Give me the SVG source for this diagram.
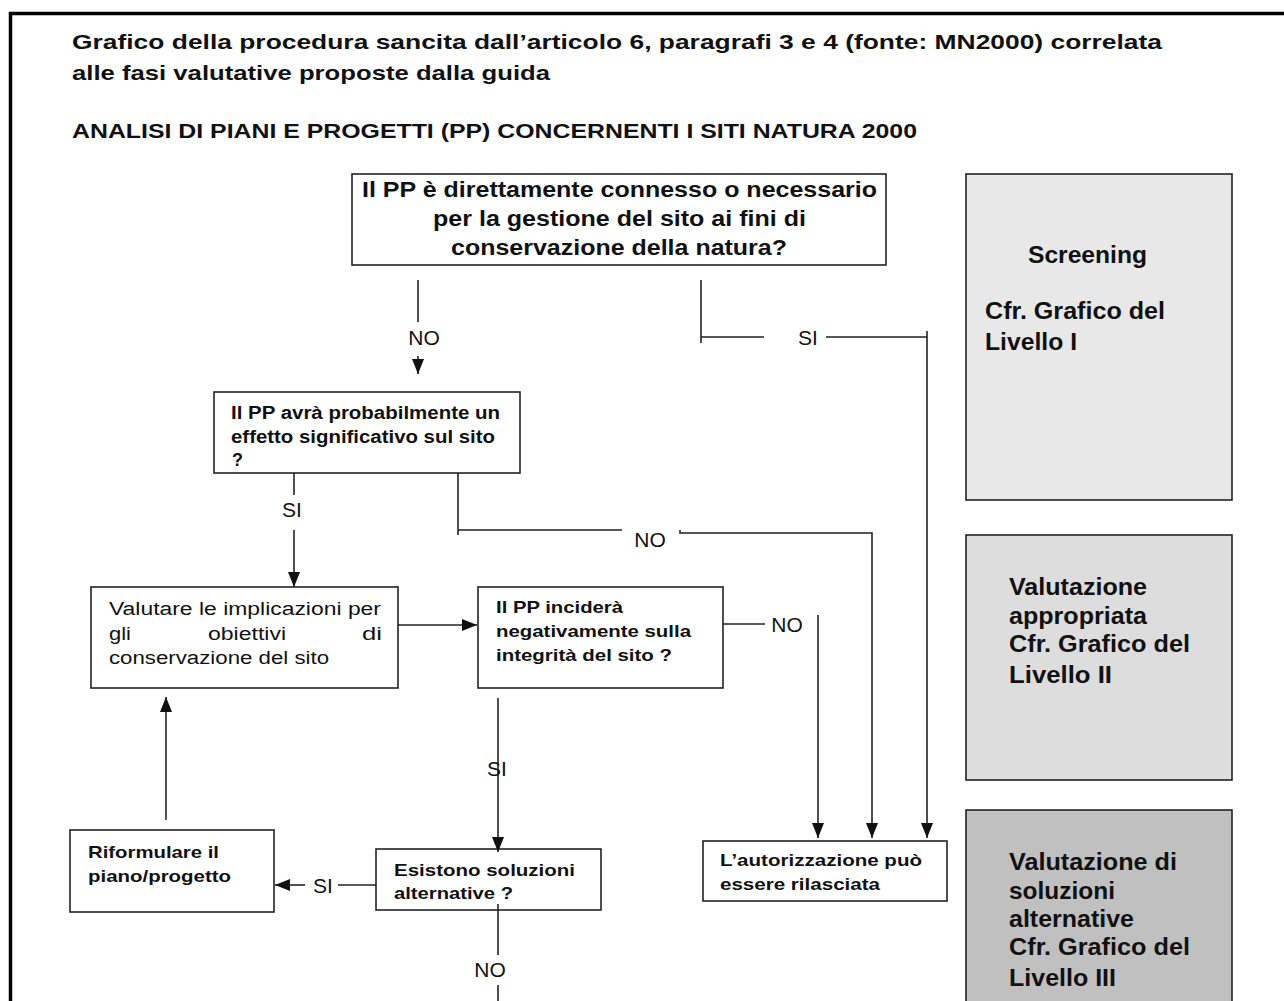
<svg xmlns="http://www.w3.org/2000/svg" width="1284" height="1001" viewBox="0 0 1284 1001">
<defs>
<style>
.t{font-family:"Liberation Sans",Arial,sans-serif;fill:#111}
.b{font-weight:bold}
.box{fill:#fff;stroke:#222;stroke-width:1.6}
.ln{stroke:#222;stroke-width:1.6;fill:none}
.lbl{font-family:"Liberation Sans",Arial,sans-serif;font-size:21px;fill:#111;text-anchor:middle}
.side{font-family:"Liberation Sans",Arial,sans-serif;font-size:23px;font-weight:bold;fill:#111}
</style>
<marker id="ah" viewBox="0 0 15 12" markerWidth="15" markerHeight="12" refX="15" refY="6" orient="auto" markerUnits="userSpaceOnUse">
<path d="M0,0 L15,6 L0,12 z" fill="#111"/>
</marker>
</defs>
<rect width="1284" height="1001" fill="#fff"/>
<path d="M10.5,1001 V13.5 H1284" fill="none" stroke="#000" stroke-width="3.5"/>
<g id="title">
<text class="t b" x="72" y="49" font-size="21" textLength="1090" lengthAdjust="spacingAndGlyphs">Grafico della procedura sancita dall’articolo 6, paragrafi 3 e 4 (fonte: MN2000) correlata</text>
<text class="t b" x="72" y="80" font-size="21" textLength="478" lengthAdjust="spacingAndGlyphs">alle fasi valutative proposte dalla guida</text>
<text class="t b" x="72" y="138" font-size="21" textLength="845" lengthAdjust="spacingAndGlyphs">ANALISI DI PIANI E PROGETTI (PP) CONCERNENTI I SITI NATURA 2000</text>
</g>
<g id="n1">
<rect class="box" x="352" y="174" width="534" height="91"/>
<text class="t b" font-size="22" x="362" y="197" textLength="515" lengthAdjust="spacingAndGlyphs">Il PP è direttamente connesso o necessario</text>
<text class="t b" font-size="22" x="433" y="226" textLength="373" lengthAdjust="spacingAndGlyphs">per la gestione del sito ai fini di</text>
<text class="t b" font-size="22" x="451" y="255" textLength="336" lengthAdjust="spacingAndGlyphs">conservazione della natura?</text>
</g>
<g id="n2">
<rect class="box" x="214" y="392" width="306" height="81"/>
<text class="t b" font-size="18" x="231" y="419" textLength="269" lengthAdjust="spacingAndGlyphs">Il PP avrà probabilmente un</text>
<text class="t b" font-size="18" x="231" y="443" textLength="264" lengthAdjust="spacingAndGlyphs">effetto significativo sul sito</text>
<text class="t b" font-size="18" x="232" y="466">?</text>
</g>
<g id="n3">
<rect class="box" x="91" y="587" width="307" height="101"/>
<text class="t" font-size="18" x="109" y="615" textLength="272" lengthAdjust="spacingAndGlyphs">Valutare le implicazioni per</text>
<text class="t" font-size="18" x="109" y="640" textLength="22" lengthAdjust="spacingAndGlyphs">gli</text>
<text class="t" font-size="18" x="208" y="640" textLength="78" lengthAdjust="spacingAndGlyphs">obiettivi</text>
<text class="t" font-size="18" x="362" y="640" textLength="20" lengthAdjust="spacingAndGlyphs">di</text>
<text class="t" font-size="18" x="109" y="664" textLength="220" lengthAdjust="spacingAndGlyphs">conservazione del sito</text>
</g>
<g id="n4">
<rect class="box" x="478" y="587" width="245" height="101"/>
<text class="t b" font-size="17" x="496" y="613" textLength="127" lengthAdjust="spacingAndGlyphs">Il PP inciderà</text>
<text class="t b" font-size="17" x="496" y="637" textLength="195" lengthAdjust="spacingAndGlyphs">negativamente sulla</text>
<text class="t b" font-size="17" x="496" y="661" textLength="176" lengthAdjust="spacingAndGlyphs">integrità del sito ?</text>
</g>
<g id="n5">
<rect class="box" x="703" y="841" width="244" height="60"/>
<text class="t b" font-size="17" x="720" y="866" textLength="202" lengthAdjust="spacingAndGlyphs">L’autorizzazione può</text>
<text class="t b" font-size="17" x="720" y="890" textLength="160" lengthAdjust="spacingAndGlyphs">essere rilasciata</text>
</g>
<g id="n6">
<rect class="box" x="376" y="849" width="225" height="61"/>
<text class="t b" font-size="17" x="394" y="876" textLength="181" lengthAdjust="spacingAndGlyphs">Esistono soluzioni</text>
<text class="t b" font-size="17" x="394" y="899" textLength="119" lengthAdjust="spacingAndGlyphs">alternative ?</text>
</g>
<g id="n7">
<rect class="box" x="70" y="830" width="204" height="82"/>
<text class="t b" font-size="17" x="88" y="858" textLength="131" lengthAdjust="spacingAndGlyphs">Riformulare il</text>
<text class="t b" font-size="17" x="88" y="882" textLength="143" lengthAdjust="spacingAndGlyphs">piano/progetto</text>
</g>
<g id="sideA">
<rect x="966" y="174" width="266" height="326" fill="#e8e8e8" stroke="#222" stroke-width="1.6"/>
<text class="side" x="1028" y="263" textLength="119" lengthAdjust="spacingAndGlyphs">Screening</text>
<text class="side" x="985" y="319" textLength="180" lengthAdjust="spacingAndGlyphs">Cfr. Grafico del</text>
<text class="side" x="985" y="350" textLength="92" lengthAdjust="spacingAndGlyphs">Livello I</text>
</g>
<g id="sideB">
<rect x="966" y="535" width="266" height="245" fill="#dddddd" stroke="#222" stroke-width="1.6"/>
<text class="side" x="1009" y="595" textLength="138" lengthAdjust="spacingAndGlyphs">Valutazione</text>
<text class="side" x="1009" y="624" textLength="138" lengthAdjust="spacingAndGlyphs">appropriata</text>
<text class="side" x="1009" y="652" textLength="181" lengthAdjust="spacingAndGlyphs">Cfr. Grafico del</text>
<text class="side" x="1009" y="683" textLength="103" lengthAdjust="spacingAndGlyphs">Livello II</text>
</g>
<g id="sideC">
<rect x="966" y="810" width="266" height="200" fill="#c0c0c0" stroke="#222" stroke-width="1.6"/>
<text class="side" x="1009" y="870" textLength="168" lengthAdjust="spacingAndGlyphs">Valutazione di</text>
<text class="side" x="1009" y="899" textLength="106" lengthAdjust="spacingAndGlyphs">soluzioni</text>
<text class="side" x="1009" y="927" textLength="125" lengthAdjust="spacingAndGlyphs">alternative</text>
<text class="side" x="1009" y="955" textLength="181" lengthAdjust="spacingAndGlyphs">Cfr. Grafico del</text>
<text class="side" x="1009" y="986" textLength="107" lengthAdjust="spacingAndGlyphs">Livello III</text>
</g>
<g id="connectors">
<line class="ln" x1="418" y1="280" x2="418" y2="322"/>
<line class="ln" x1="418" y1="356" x2="418" y2="374" marker-end="url(#ah)"/>
<path class="ln" d="M701,280 V343 M701,337 H764 M826,337 H927 M927,331 V838" marker-end="url(#ah)"/>
<path class="ln" d="M294,473 V495"/>
<line class="ln" x1="294" y1="530" x2="294" y2="587" marker-end="url(#ah)"/>
<path class="ln" d="M458,473 V535 M458,530 H622"/>
<path class="ln" d="M680,530 V533 H872 V838" marker-end="url(#ah)"/>
<line class="ln" x1="398" y1="625" x2="477" y2="625" marker-end="url(#ah)"/>
<line class="ln" x1="723" y1="624" x2="765" y2="624"/>
<line class="ln" x1="818" y1="615" x2="818" y2="838" marker-end="url(#ah)"/>
<line class="ln" x1="498" y1="698" x2="498" y2="852" marker-end="url(#ah)"/>
<line class="ln" x1="376" y1="885" x2="338" y2="885"/>
<line class="ln" x1="305" y1="885" x2="275" y2="885" marker-end="url(#ah)"/>
<line class="ln" x1="166" y1="820" x2="166" y2="697" marker-end="url(#ah)"/>
<line class="ln" x1="498" y1="904" x2="498" y2="955"/>
<line class="ln" x1="498" y1="985" x2="498" y2="1001"/>
<text class="lbl" x="424" y="345">NO</text>
<text class="lbl" x="808" y="345">SI</text>
<text class="lbl" x="292" y="517">SI</text>
<text class="lbl" x="650" y="547">NO</text>
<text class="lbl" x="787" y="632">NO</text>
<text class="lbl" x="497" y="776">SI</text>
<text class="lbl" x="323" y="893">SI</text>
<text class="lbl" x="490" y="977">NO</text>
</g>
</svg>
